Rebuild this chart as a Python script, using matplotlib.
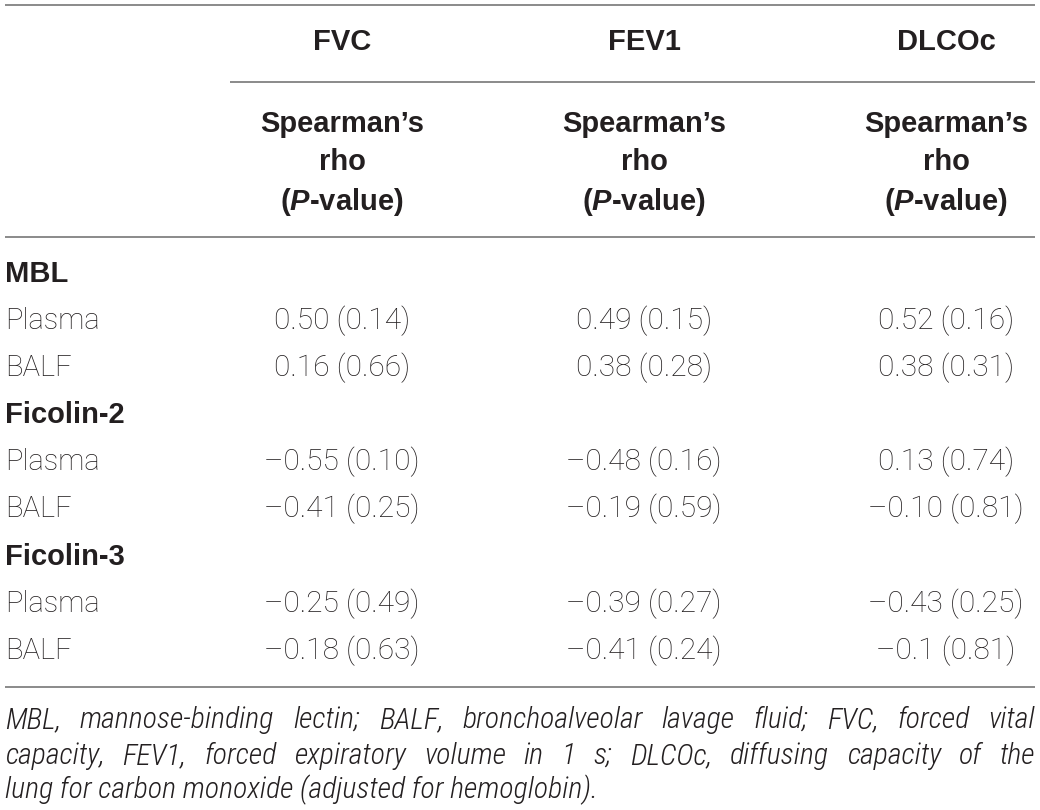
import matplotlib
matplotlib.use("Agg")
import matplotlib.pyplot as plt
from matplotlib import font_manager as fm

# ---------------- data ----------------
columns = ["FVC", "FEV1", "DLCOc"]
subheader = ["Spearman\u2019s", "rho", "(P-value)"]
groups = ["MBL", "Ficolin-2", "Ficolin-3"]
samples = ["Plasma", "BALF"]
fvc_rho = ["0.50", "0.16", "\u20130.55", "\u20130.41", "\u20130.25", "\u20130.18"]
fvc_p = ["0.14", "0.66", "0.10", "0.25", "0.49", "0.63"]
fev1_rho = ["0.49", "0.38", "\u20130.48", "\u20130.19", "\u20130.39", "\u20130.41"]
fev1_p = ["0.15", "0.28", "0.16", "0.59", "0.27", "0.24"]
dlco_rho = ["0.52", "0.38", "0.13", "\u20130.10", "\u20130.43", "\u20130.1"]
dlco_p = ["0.16", "0.31", "0.74", "0.81", "0.25", "0.81"]
footnote = [
    "MBL, mannose-binding lectin; BALF, bronchoalveolar lavage fluid; FVC, forced vital",
    "capacity, FEV1, forced expiratory volume in 1 s; DLCOc, diffusing capacity of the",
    "lung for carbon monoxide (adjusted for hemoglobin).",
]

# ---------------- style ----------------
plt.rcParams["mathtext.fontset"] = "custom"
plt.rcParams["mathtext.bfit"] = "Liberation Sans:italic:bold"
plt.rcParams["mathtext.it"] = "Liberation Sans:italic:bold"
plt.rcParams["mathtext.rm"] = "Liberation Sans:bold"

INK = "#231f20"
BOLD = dict(family="Liberation Sans", weight="bold", color=INK)
REG = dict(family="Roboto", weight="light", color=INK)


def pick_footnote_font():
    cands = [
        dict(family="Roboto Condensed", weight="light", style="italic"),
        dict(family="Liberation Sans Narrow", style="italic"),
        dict(family="Open Sans", stretch="condensed", weight="light", style="italic"),
    ]
    for c in cands:
        fp = fm.FontProperties(**c)
        try:
            path = fm.findfont(fp, fallback_to_default=False)
        except Exception:
            continue
        low = path.lower()
        if ("condensed" in low or "narrow" in low) and ("italic" in low or "oblique" in low):
            return c
    return dict(family="Roboto", weight="light", style="italic")


ITAL = dict(pick_footnote_font(), color=INK)
LINE = dict(color="#8a8a8a", lw=1.4, solid_capstyle="butt")

W, H = 1040, 810
fig = plt.figure(figsize=(W / 100, H / 100), dpi=100)
ax = fig.add_axes([0, 0, 1, 1])
ax.set_xlim(0, W)
ax.set_ylim(H, 0)
ax.axis("off")

col_x = [342, 644, 946]
left_x = 5

# rules
ax.plot([5, 1035], [5, 5], **LINE)
ax.plot([230, 1035], [82, 82], **LINE)
ax.plot([5, 1035], [237, 237], **LINE)
ax.plot([5, 1035], [687, 687], **LINE)

# headers
for cx, name in zip(col_x, columns):
    ax.text(cx, 42, name, ha="center", va="center", fontsize=21, **BOLD)
    ax.text(cx, 124, subheader[0], ha="center", va="center", fontsize=21, **BOLD)
    ax.text(cx, 162, subheader[1], ha="center", va="center", fontsize=21, **BOLD)
    ax.text(cx, 202, "(" + r"$\mathbfit{P}$" + "-value)", ha="center", va="center",
            fontsize=21, **BOLD)

# body rows
group_y = [274, 415, 557]
row_step = 47
cols = [(fvc_rho, fvc_p), (fev1_rho, fev1_p), (dlco_rho, dlco_p)]
k = 0
for gi, g in enumerate(groups):
    gy = group_y[gi]
    ax.text(left_x, gy, g, ha="left", va="center", fontsize=21, **BOLD)
    for si, s in enumerate(samples):
        y = gy + row_step * (si + 1)
        ax.text(left_x, y, s, ha="left", va="center", fontsize=21, **REG)
        for cx, (rho, p) in zip(col_x, cols):
            ax.text(cx, y, f"{rho[k]} ({p[k]})", ha="center", va="center",
                    fontsize=21.5, **REG)
        k += 1

# footnote (justified lines 1 and 2)
fig.canvas.draw()
renderer = fig.canvas.get_renderer()
foot_y = [720, 756, 790]
x0, x1 = 5, 1035
fsize = 17


def width_px(t):
    return t.get_window_extent(renderer=renderer).width


tmp = ax.text(0, 0, footnote[0], fontsize=fsize, **ITAL)
wnat = width_px(tmp)
tmp.remove()
fsize = min(fsize * (x1 - x0) / wnat, 21.5)

for li, line in enumerate(footnote):
    y = foot_y[li]
    if li < 2:
        words = line.split(" ")
        ws = []
        for w_ in words:
            t = ax.text(0, 0, w_, fontsize=fsize, **ITAL)
            ws.append(width_px(t))
            t.remove()
        gap = (x1 - x0 - sum(ws)) / (len(words) - 1)
        x = x0
        for w_, wpx in zip(words, ws):
            ax.text(x, y, w_, ha="left", va="center", fontsize=fsize, **ITAL)
            x += wpx + gap
    else:
        ax.text(x0, y, line, ha="left", va="center", fontsize=fsize, **ITAL)

fig.savefig("out.png", dpi=100)
